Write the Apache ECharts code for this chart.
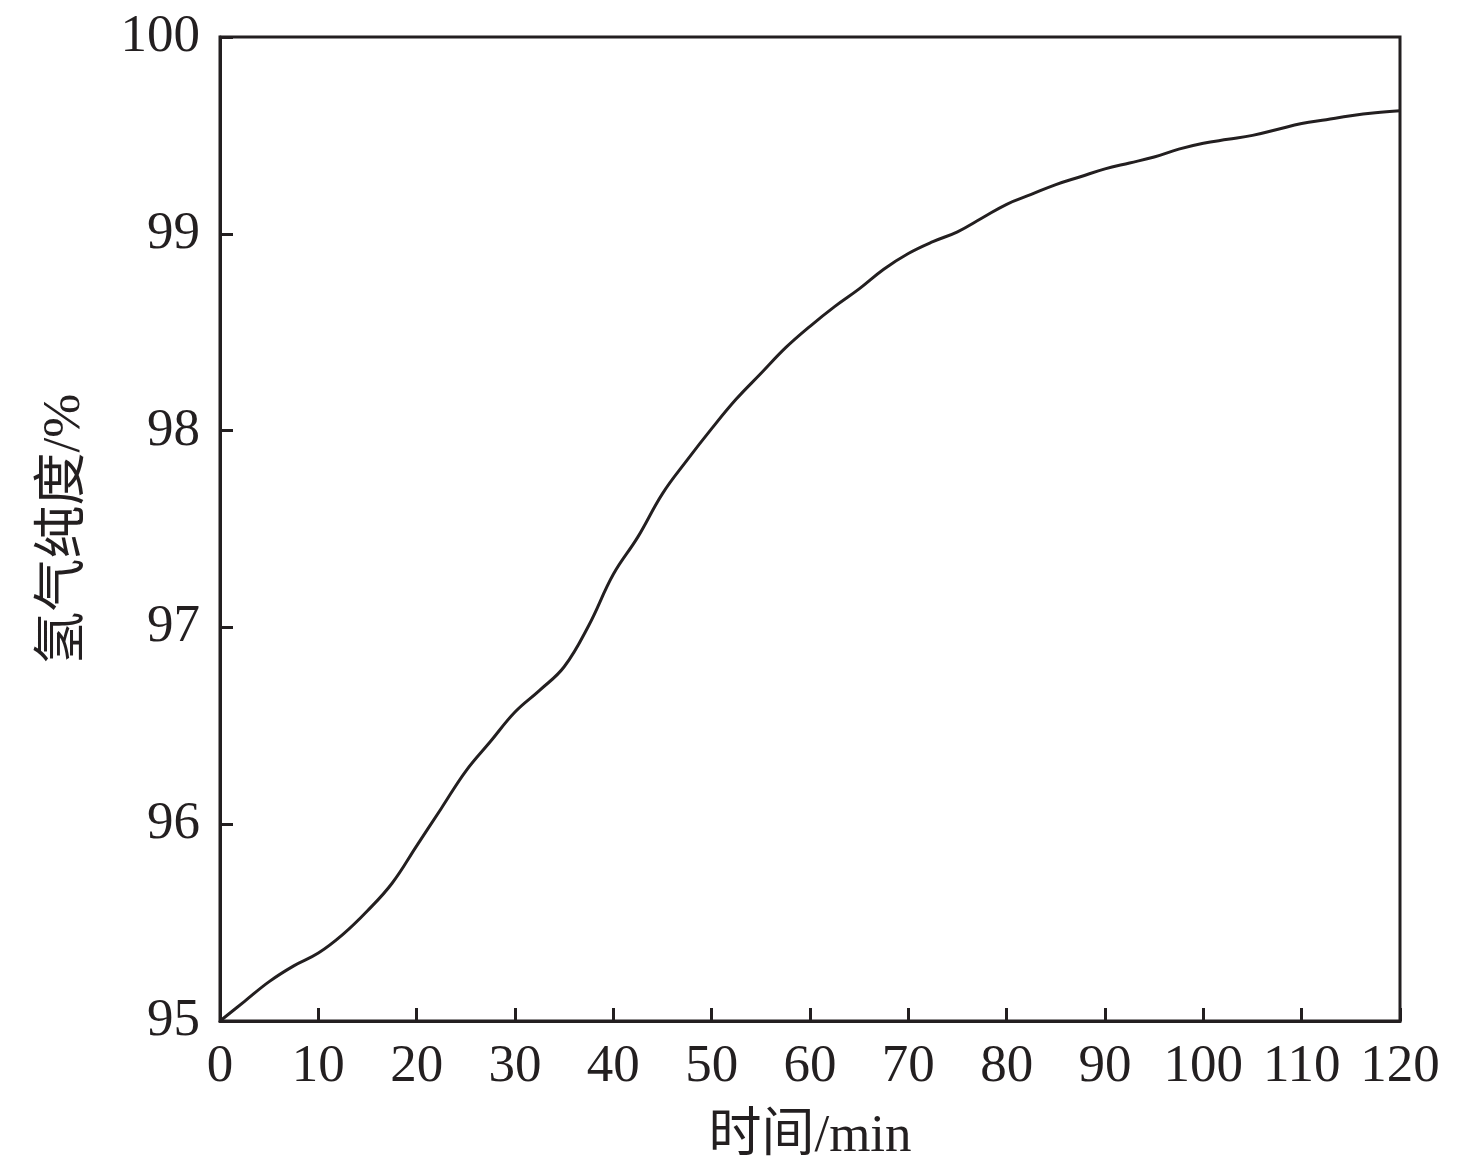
<!DOCTYPE html>
<html>
<head>
<meta charset="utf-8">
<script src="https://cdn.jsdelivr.net/npm/echarts@6/dist/echarts.min.js"></script>
<style>
  html, body { margin: 0; padding: 0; background: #fff; }
  #chart { width: 1476px; height: 1173px; }
</style>
</head>
<body>
<div id="chart"></div>
<script>
// 时间 (min) 与 氢气纯度 (%)
var times = [0, 2.5, 5, 7.5, 10, 12.5, 15, 17.5, 20, 22.5, 25, 27.5, 30, 32.5, 35, 37.5,
  40, 42.5, 45, 47.5, 50, 52.5, 55, 57.5, 60, 62.5, 65, 67.5, 70, 72.5, 75, 77.5,
  80, 82.5, 85, 87.5, 90, 92.5, 95, 97.5, 100, 102.5, 105, 107.5, 110, 112.5, 115, 117.5, 120]
var purity = [95.00, 95.10, 95.20, 95.28, 95.345, 95.44, 95.56, 95.70, 95.89, 96.08, 96.27, 96.42,
  96.57, 96.68, 96.80, 97.01, 97.27, 97.46, 97.68, 97.85, 98.01, 98.16, 98.29, 98.42,
  98.53, 98.63, 98.72, 98.82, 98.90, 98.96, 99.01, 99.08, 99.15, 99.20, 99.25, 99.29,
  99.33, 99.36, 99.39, 99.43, 99.46, 99.48, 99.50, 99.53, 99.56, 99.58, 99.60, 99.615, 99.625]

var ink = '#231f20'
var font = '"Times New Roman", "Liberation Serif", "Noto Sans CJK SC", serif'

var points = []
for (var i = 0; i < times.length; i++) {
  points.push([times[i], purity[i]])
}

var chart = echarts.init(document.getElementById('chart'))
chart.setOption({
  animation: false,
  backgroundColor: '#fff',
  textStyle: { fontFamily: font, color: ink },
  grid: {
    left: 220, right: 76, top: 37, bottom: 152,
    show: true, borderColor: ink, borderWidth: 3
  },
  xAxis: {
    type: 'value',
    min: 0, max: 120, interval: 10,
    name: '时间/min',
    nameLocation: 'middle',
    nameGap: 90,
    nameTextStyle: { fontSize: 53, color: ink, fontFamily: font },
    axisLine: { show: true, lineStyle: { color: ink, width: 3 } },
    axisTick: { show: true, inside: true, length: 13, lineStyle: { color: ink, width: 3 } },
    axisLabel: { fontSize: 53, color: ink, margin: 20, fontFamily: font },
    splitLine: { show: false }
  },
  yAxis: {
    type: 'value',
    min: 95, max: 100, interval: 1,
    name: '氢气纯度/%',
    nameLocation: 'middle',
    nameGap: 128,
    nameRotate: 90,
    nameTextStyle: { fontSize: 53, color: ink, fontFamily: font },
    axisLine: { show: true, lineStyle: { color: ink, width: 3 } },
    axisTick: { show: true, inside: true, length: 13, lineStyle: { color: ink, width: 3 } },
    axisLabel: { fontSize: 53, color: ink, margin: 20, fontFamily: font },
    splitLine: { show: false }
  },
  series: [{
    type: 'line',
    data: points,
    smooth: 0.4,
    showSymbol: false,
    lineStyle: { color: ink, width: 3 }
  }]
})
</script>
</body>
</html>
